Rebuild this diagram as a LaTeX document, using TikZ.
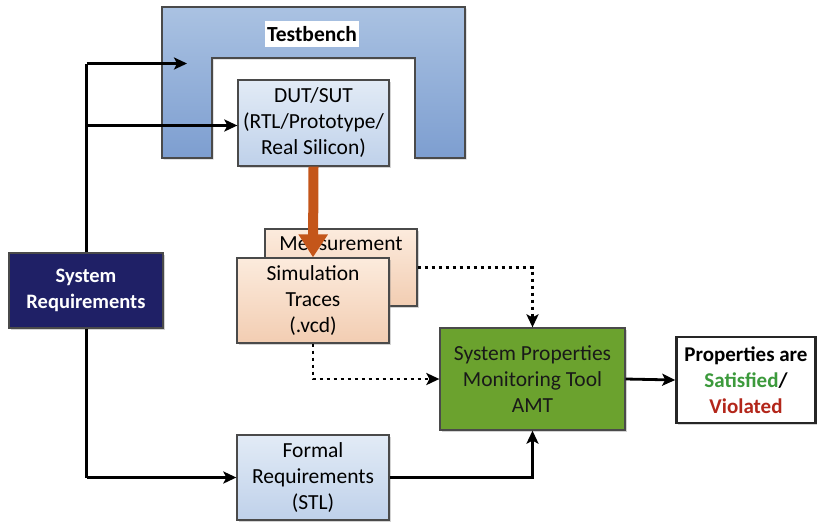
\documentclass[tikz,border=0pt]{standalone}
\usepackage{fontspec}
\setmainfont{Carlito}
\usetikzlibrary{arrows.meta,shadows,calc}
\definecolor{tbtop}{HTML}{AAC2E2}
\definecolor{tbbot}{HTML}{7D9ED0}
\definecolor{duttop}{HTML}{E2EBF6}
\definecolor{dutbot}{HTML}{BFD1EA}
\definecolor{peachtop}{HTML}{FCEBDD}
\definecolor{peachbot}{HTML}{F2CDB2}
\definecolor{amtgreen}{HTML}{6BA22E}
\definecolor{navy}{HTML}{1F2066}
\definecolor{arrorange}{HTML}{C4561A}
\definecolor{satgreen}{HTML}{3C9A3C}
\definecolor{violred}{HTML}{B3261A}
\definecolor{edgegray}{HTML}{4A4A4A}
\tikzset{
  boxbase/.style={draw=edgegray, line width=1.3pt, align=center, inner sep=2pt,
    drop shadow={opacity=0.35, shadow xshift=1.5pt, shadow yshift=-1.5pt},
    font=\fontsize{21.5}{26}\selectfont},
  bluebox/.style={boxbase, top color=duttop, bottom color=dutbot},
  peachbox/.style={boxbase, top color=peachtop, bottom color=peachbot},
  conn/.style={draw=black, line width=2.8pt, -{Stealth[length=13pt,width=12pt,inset=3pt]}},
  plainline/.style={draw=black, line width=2.8pt},
  dotconn/.style={draw=black, line width=2.8pt, dash pattern=on 3.5pt off 3.5pt, -{Stealth[length=13pt,width=12pt,inset=3pt]}},
}
\begin{document}
\begin{tikzpicture}[x=1pt,y=-1pt]
\useasboundingbox (0,0) rectangle (818,523);
% Testbench
\path[draw=edgegray, line width=1.3pt, top color=tbtop, bottom color=tbbot,
  drop shadow={opacity=0.35, shadow xshift=1.5pt, shadow yshift=-1.5pt}]
  (162,7) -- (465,7) -- (465,158) -- (415,158) -- (415,58) -- (212,58) -- (212,158) -- (162,158) -- cycle;
\node[fill=white, inner sep=2pt, minimum width=92pt, minimum height=26pt,
  font=\bfseries\fontsize{21.5}{24}\selectfont] (tblabel) at (312,34) {Testbench};
\coordinate (tbin) at (187,63.5);
% Boxes
\node[bluebox, minimum width=151pt, minimum height=86pt] (dut) at (313.5,123)
  {DUT/SUT\\(RTL/Prototype/\\Real Silicon)};
\node[peachbox, minimum width=152pt, minimum height=77pt] (meas) at (341,267.5) {};
\node[font=\fontsize{21.5}{26}\selectfont, anchor=north] (meastext) at ($(meas.north)+(0,5)$) {Measurement};
\node[peachbox, minimum width=152pt, minimum height=85pt] (sim) at (313,300.5)
  {Simulation\\Traces\\(.vcd)};
\node[boxbase, fill=navy, text=white, minimum width=154pt, minimum height=75pt,
  font=\bfseries\fontsize{20.5}{26}\selectfont] (sysreq) at (86,290.5)
  {System\\Requirements};
\node[boxbase, fill=amtgreen, text=black!90, minimum width=185pt, minimum height=102pt] (amt) at (532.5,379)
  {System Properties\\Monitoring Tool\\AMT};
\node[boxbase, fill=white, line width=2.6pt, draw=black!85, minimum width=139pt, minimum height=86pt,
  font=\bfseries\fontsize{21}{26}\selectfont] (result) at (746,380)
  {Properties are\\\textcolor{satgreen}{Satisfied}/\\\textcolor{violred}{Violated}};
\node[bluebox, minimum width=152pt, minimum height=85pt] (formal) at (313,477.5)
  {Formal\\Requirements\\(STL)};
% Orange arrow
\draw[arrorange, line width=10pt, -{Triangle[length=23pt,width=28pt]}] (dut.south) -- (sim.north);
% Connectors
\coordinate (bend1) at (86.5,63.5);
\coordinate (bend2) at (86.5,125.5);
\coordinate (bend3) at (86.5,477.5);
\draw[plainline] (sysreq.north -| bend1) -- (bend1);
\draw[conn] (bend1) -- (tbin);
\draw[conn] (bend2) -- (dut.west |- bend2);
\draw[plainline] (sysreq.south -| bend3) -- (bend3);
\draw[conn] (bend3) -- (formal.west |- bend3);
\draw[conn] (formal.east) -| (amt.south);
\draw[dotconn] (meas.east) -| (amt.north);
\draw[dotconn] (sim.south) |- (amt.west);
\draw[conn] (amt.east) -- (result.west);
\end{tikzpicture}
\end{document}
